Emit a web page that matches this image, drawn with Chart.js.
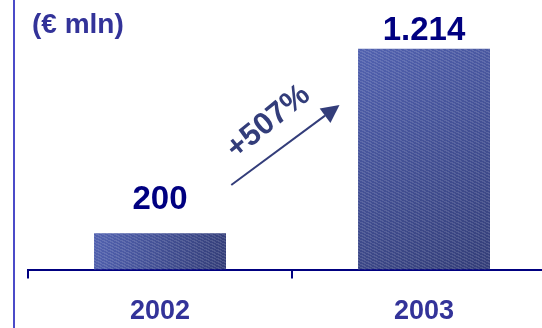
<!DOCTYPE html>
<html>
<head>
<meta charset="utf-8">
<script src="https://cdn.jsdelivr.net/npm/chart.js@4/dist/chart.umd.min.js"></script>
<style>
  html, body { margin: 0; padding: 0; background: #fff; overflow: hidden; }
  #wrap { position: relative; width: 560px; height: 345px; }
</style>
</head>
<body>
<div id="wrap"><canvas id="c"></canvas></div>
<script>
const years = ['2002', '2003'];
const revenue = [200, 1214];
const unitLabel = '(€ mln)';
const growthLabel = '+507%';
// arrow endpoints in data units: [category index, value]
const arrowFrom = [0.27, 465];
const arrowTo = [0.68, 905];

const fmt = v => String(v).replace(/\B(?=(\d{3})+(?!\d))/g, '.');

function barGradient(ctx) {
  const chart = ctx.chart;
  const xs = chart.scales.x, ys = chart.scales.y;
  if (!chart.chartArea || !xs || !ys || ctx.type !== 'data') return '#3d4a92';
  const cx = xs.getPixelForValue(ctx.dataIndex);
  const half = (xs.width / years.length) * 0.25;
  const top = ys.getPixelForValue(revenue[ctx.dataIndex]);
  const base = ys.getPixelForValue(0);
  if (![cx, half, top, base].every(Number.isFinite)) return '#3d4a92';
  const g = chart.ctx.createLinearGradient(cx - half, top, cx + half, base);
  g.addColorStop(0, '#5262b0');
  g.addColorStop(1, '#343e78');
  return g;
}

// fine woven texture laid over the bars
function makeTexture() {
  const c = document.createElement('canvas');
  c.width = 6; c.height = 3;
  const t = c.getContext('2d');
  t.fillStyle = 'rgba(255,255,255,0.13)';
  for (let i = 0; i < 3; i++) t.fillRect((i * 2) % 6, i, 3, 1);
  return c;
}

const extras = {
  id: 'extras',
  afterDatasetsDraw(chart) {
    const { ctx } = chart;
    const xs = chart.scales.x, ys = chart.scales.y;
    ctx.save();
    const pat = ctx.createPattern(makeTexture(), 'repeat');
    ctx.fillStyle = pat;
    chart.getDatasetMeta(0).data.forEach(bar => {
      ctx.fillRect(bar.x - bar.width / 2, bar.y, bar.width, bar.base - bar.y);
    });

    // left frame line
    ctx.strokeStyle = '#4b4bc8';
    ctx.lineWidth = 2;
    ctx.beginPath(); ctx.moveTo(14, 0); ctx.lineTo(14, chart.height); ctx.stroke();

    // unit label
    ctx.fillStyle = '#333399';
    ctx.font = 'bold 28px Arial, "Liberation Sans", sans-serif';
    ctx.textBaseline = 'alphabetic';
    ctx.textAlign = 'left';
    ctx.fillText(unitLabel, 32, 33);

    // value labels
    const gaps = [24, 9];
    ctx.fillStyle = '#000080';
    ctx.font = 'bold 33px Arial, "Liberation Sans", sans-serif';
    ctx.textAlign = 'center';
    chart.getDatasetMeta(0).data.forEach((bar, i) => {
      ctx.fillText(fmt(revenue[i]), bar.x, bar.y - gaps[i]);
    });

    // growth arrow
    const x0 = xs.getPixelForValue(arrowFrom[0]), y0 = ys.getPixelForValue(arrowFrom[1]);
    const x1 = xs.getPixelForValue(arrowTo[0]), y1 = ys.getPixelForValue(arrowTo[1]);
    const ang = Math.atan2(y1 - y0, x1 - x0);
    ctx.strokeStyle = '#333d7a';
    ctx.fillStyle = '#333d7a';
    ctx.lineWidth = 2;
    const hl = 18, hw = 9;
    const bx = x1 - Math.cos(ang) * hl, by = y1 - Math.sin(ang) * hl;
    ctx.beginPath(); ctx.moveTo(x0, y0); ctx.lineTo(bx, by); ctx.stroke();
    ctx.beginPath();
    ctx.moveTo(x1, y1);
    ctx.lineTo(bx + Math.sin(ang) * hw, by - Math.cos(ang) * hw);
    ctx.lineTo(bx - Math.sin(ang) * hw, by + Math.cos(ang) * hw);
    ctx.closePath(); ctx.fill();

    // growth label, rotated along arrow
    const mx = (x0 + x1) / 2 - 17, my = (y0 + y1) / 2 - 23;
    ctx.translate(mx, my);
    ctx.rotate(ang - 0.05);
    ctx.font = 'bold 31px Arial, "Liberation Sans", sans-serif';
    ctx.textAlign = 'center';
    ctx.textBaseline = 'middle';
    ctx.fillText(growthLabel, 0, 0);
    ctx.restore();
  }
};

new Chart(document.getElementById('c'), {
  type: 'bar',
  data: {
    labels: years,
    datasets: [{
      data: revenue,
      backgroundColor: barGradient,
      borderWidth: 0,
      barPercentage: 1,
      categoryPercentage: 0.5
    }]
  },
  options: {
    responsive: true,
    maintainAspectRatio: false,
    animation: false,
    layout: { padding: { left: 28, right: 4, top: 0, bottom: 0 } },
    plugins: { legend: { display: false }, tooltip: { enabled: false } },
    scales: {
      y: { display: false, min: 0, max: 1482 },
      x: {
        grid: { drawOnChartArea: false, drawTicks: true, tickLength: 9, color: '#000080', lineWidth: 2 },
        border: { display: true, color: '#000080', width: 2 },
        ticks: {
          color: '#333399',
          padding: 17,
          font: { family: 'Arial, "Liberation Sans", sans-serif', size: 27, weight: 'bold' }
        }
      }
    }
  },
  plugins: [extras]
});
</script>
</body>
</html>
